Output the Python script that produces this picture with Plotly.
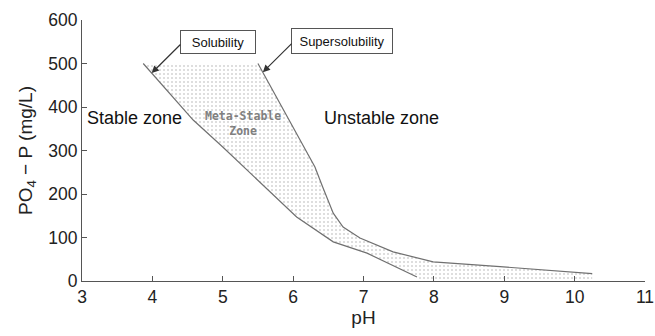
import plotly.graph_objects as go

# Solubility curve (pH, PO4-P mg/L)
sol_ph = [3.87, 4.58, 5.0, 5.71, 6.05, 6.57, 7.05, 7.76]
sol_p = [500, 370, 308, 198, 147, 90, 64, 9]

# Supersolubility curve
sup_ph = [5.5, 6.0, 6.31, 6.42, 6.57, 6.71, 6.95, 7.42, 7.99, 8.94, 10.03, 10.25]
sup_p = [500, 354, 262, 216, 156, 124, 99, 67, 44, 33, 19, 17]

x_ticks = [3, 4, 5, 6, 7, 8, 9, 10, 11]
y_ticks = [0, 100, 200, 300, 400, 500, 600]

line_col = "#707070"
font_fam = "Liberation Sans, Arial, sans-serif"

fig = go.Figure()

# meta-stable zone polygon built from the two curves
poly_x = [sol_ph[0]] + sup_ph + [sup_ph[-1], sol_ph[-1]] + sol_ph[::-1]
poly_y = [sol_p[0]] + sup_p + [0, 0] + sol_p[::-1]
fig.add_trace(go.Scatter(
    x=poly_x, y=poly_y, mode="lines", line=dict(width=0),
    fill="toself", fillcolor="rgba(255,255,255,0)",
    fillpattern=dict(shape=".", fgcolor="#a8a8a8", bgcolor="white", size=4, solidity=0.2),
    hoverinfo="skip", showlegend=False))

fig.add_trace(go.Scatter(x=sol_ph, y=sol_p, mode="lines",
                         line=dict(color=line_col, width=1.2), showlegend=False))
fig.add_trace(go.Scatter(x=sup_ph, y=sup_p, mode="lines",
                         line=dict(color=line_col, width=1.2), showlegend=False))

fig.update_xaxes(range=[3, 11], tickvals=x_ticks, showline=True, linecolor="#555",
                 linewidth=1, ticks="inside", ticklen=5, tickcolor="#555",
                 showgrid=False, zeroline=False, automargin=False,
                 tickfont=dict(size=17.5, color="#222", family=font_fam),
                 title=dict(text="pH", font=dict(size=19, color="#222", family=font_fam), standoff=2))
fig.update_yaxes(range=[0, 600], tickvals=y_ticks, showline=True, linecolor="#555",
                 linewidth=1, ticks="inside", ticklen=5, tickcolor="#555",
                 showgrid=False, zeroline=False, automargin=False,
                 tickfont=dict(size=17.5, color="#222", family=font_fam),
                 title=dict(text="PO<sub>4</sub> − P (mg/L)",
                            font=dict(size=19, color="#222", family=font_fam), standoff=10))

anns = []
anns.append(dict(x=3.75, y=375, text="Stable zone", showarrow=False,
                 font=dict(size=18, color="#111", family=font_fam)))
anns.append(dict(x=7.26, y=375, text="Unstable zone", showarrow=False,
                 font=dict(size=18, color="#111", family=font_fam)))
anns.append(dict(x=5.29, y=363, text="<b>Meta-Stable<br>Zone</b>", showarrow=False,
                 font=dict(size=11.5, color="#808080", family="DejaVu Sans Mono, monospace")))
# boxes
anns.append(dict(x=4.93, y=549, text="Solubility", showarrow=False,
                 font=dict(size=13, color="#111", family=font_fam), width=72, height=20,
                 bordercolor="#555", borderwidth=1, borderpad=1, bgcolor="white"))
anns.append(dict(x=6.69, y=552, text="Supersolubility", showarrow=False,
                 font=dict(size=13, color="#111", family=font_fam), width=98, height=22,
                 bordercolor="#555", borderwidth=1, borderpad=1, bgcolor="white"))
# arrows
anns.append(dict(x=3.99, y=478, ax=4.42, ay=547, axref="x", ayref="y", text="",
                 showarrow=True, arrowhead=2, arrowsize=1.2, arrowwidth=1.2, arrowcolor="#333"))
anns.append(dict(x=5.57, y=480, ax=6.0, ay=549, axref="x", ayref="y", text="",
                 showarrow=True, arrowhead=2, arrowsize=1.2, arrowwidth=1.2, arrowcolor="#333"))

fig.update_layout(width=655, height=336, margin=dict(l=82, r=10, t=20, b=55),
                  plot_bgcolor="white", paper_bgcolor="white", annotations=anns,
                  font=dict(family=font_fam))
fig.write_html("out.html")
